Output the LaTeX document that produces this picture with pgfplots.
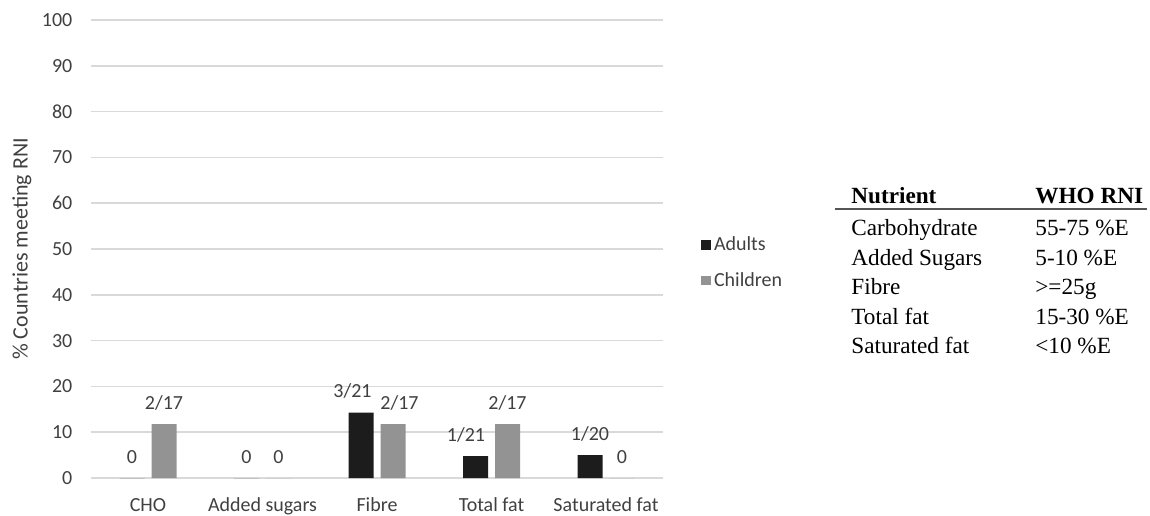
\documentclass[border=0pt]{standalone}
\usepackage{fontspec}
\usepackage{pgfplots}
\pgfplotsset{compat=1.18}
\setsansfont{Carlito}
\newfontfamily\tabfont{Liberation Serif}
\definecolor{adultbar}{RGB}{28,28,28}
\definecolor{childbar}{RGB}{147,147,147}
\definecolor{gridgray}{RGB}{217,217,217}
\definecolor{textgray}{RGB}{64,64,64}
\definecolor{rulegray}{RGB}{85,85,85}

\begin{document}
\begin{tikzpicture}
\useasboundingbox (0,0) rectangle (575bp,258bp);
\begin{axis}[
  at={(45.375bp,19bp)}, anchor=south west,
  scale only axis, width=286.25bp, height=229bp,
  ybar=3.5bp, bar width=12.5bp,
  xmin=-0.5, xmax=4.5, ymin=0, ymax=100,
  xtick={0,1,2,3,4},
  xticklabels={CHO,Added sugars,Fibre,Total fat,Saturated fat},
  ytick={0,10,...,100},
  axis line style={draw=none},
  major tick length=0pt,
  ymajorgrids, grid style={draw=gridgray, line width=0.8bp},
  clip=false,
  font=\sffamily\fontsize{10bp}{12bp}\selectfont,
  tick label style={text=textgray, font=\sffamily\fontsize{10bp}{12bp}\selectfont},
  /pgf/number format/assume math mode=true,
  yticklabel style={anchor=east, inner sep=0pt, xshift=-9bp},
  xticklabel style={anchor=base, inner sep=0pt, yshift=-16.5bp},
  ylabel={\% Countries meeting RNI},
  ylabel style={at={(rel axis cs:0,0.5)}, anchor=center, yshift=34.4bp,
    text=textgray, font=\sffamily\fontsize{11bp}{13bp}\selectfont},
  point meta=explicit symbolic,
  nodes near coords,
  every node near coord/.append style={anchor=base, inner sep=0pt, yshift=7.3bp,
    text=textgray, font=\sffamily\fontsize{10bp}{12bp}\selectfont},
  legend style={at={(rel axis cs:1.066,0.469)}, anchor=west, draw=none, fill=none,
    inner sep=0pt, row sep=9.45bp, column sep=1.5bp,
    nodes={inner sep=0pt},
    font=\sffamily\fontsize{10bp}{12bp}\selectfont, text=textgray},
  legend cell align=left,
  legend image code/.code={\fill[#1] (0bp,-2.2bp) rectangle (4.8bp,2.6bp);},
]
% labels nudged sideways as in the original via \kern
\addplot[fill=adultbar, draw=none] coordinates {
  (0,0) [0]
  (1,0) [0]
  (2,14.29) [3/21\kern8.5bp]
  (3,4.76) [1/21\kern9.5bp]
  (4,5) [1/20]
};
\addplot[fill=childbar, draw=none] coordinates {
  (0,11.76) [2/17]
  (1,0) [0]
  (2,11.76) [\kern6.5bp 2/17]
  (3,11.76) [2/17]
  (4,0) [0]
};
\legend{Adults,Children}
\end{axis}

% reference table to the right of the chart
\begin{scope}[every node/.style={inner sep=0pt, anchor=base west,
    font=\tabfont\fontsize{11.6bp}{13bp}\selectfont}]
  \node at (425.5bp,156.15bp) {\bfseries Nutrient};
  \node at (517.5bp,156.15bp) {\bfseries WHO RNI};
  \draw[rulegray, line width=1bp] (417.5bp,153.5bp) -- (573.5bp,153.5bp);
  \node at (425.5bp,140.4bp) {Carbohydrate};
  \node at (517.5bp,140.4bp) {55-75 \%E};
  \node at (425.5bp,125.4bp) {Added Sugars};
  \node at (517.5bp,125.4bp) {5-10 \%E};
  \node at (425.5bp,110.65bp) {Fibre};
  \node at (517.5bp,110.65bp) {>=25g};
  \node at (425.5bp,95.9bp) {Total fat};
  \node at (517.5bp,95.9bp) {15-30 \%E};
  \node at (425.5bp,81.15bp) {Saturated fat};
  \node at (517.5bp,81.15bp) {<10 \%E};
\end{scope}
\end{tikzpicture}
\end{document}
